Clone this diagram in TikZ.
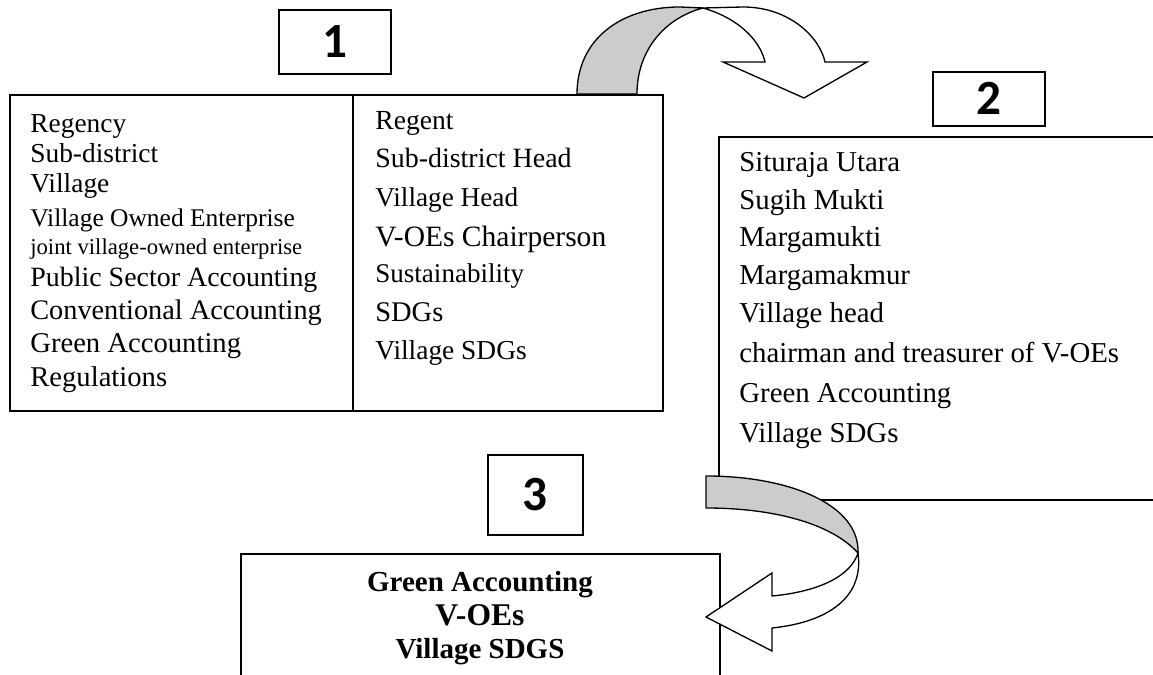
\documentclass[tikz,border=0pt]{standalone}
\usepackage{fontspec}
\setmainfont{Liberation Serif}
\newfontfamily\numfont{Carlito}
\newcommand{\fs}[1]{\fontsize{#1}{#1}\selectfont}
\tikzset{
  frame box/.style={draw, line width=1.1pt, inner sep=0pt, anchor=north west},
  num box/.style={draw, line width=0.95pt, inner sep=0pt, anchor=north west,
    font=\numfont\bfseries\fontsize{28}{30}\selectfont},
  band back/.style={draw, line width=0.75pt, fill=black!20, line join=round},
  band front/.style={draw, line width=0.75pt, fill=white, line join=miter},
  item/.style={anchor=base west, inner sep=0pt},
  result/.style={anchor=base, inner sep=0pt},
}

\begin{document}
\begin{tikzpicture}[x=0.02cm, y=-0.02cm]
  \useasboundingbox (0,0) rectangle (1153,675);
  \clip (0,0) rectangle (1153,675);

  % stage boxes
  \node[frame box, minimum width=13.06cm, minimum height=6.32cm] (stage1) at (9,94) {};
  \draw[line width=1.1pt] (353,94) -- (353,410);
  \node[frame box, minimum width=9.2cm, minimum height=7.26cm] (stage2) at (718,136) {};
  \node[frame box, minimum width=9.58cm, minimum height=3.2cm] (stage3) at (240,553) {};

  % number tags
  \node[num box, minimum width=2.24cm, minimum height=1.28cm] (tag1) at (278,9) {1};
  \node[num box, minimum width=2.24cm, minimum height=1.08cm] (tag2) at (932,71) {2};
  \node[num box, minimum width=1.9cm, minimum height=1.6cm] (tag3) at (487,454) {3};

  % column texts
  \foreach \txt/\sz/\yy [count=\i] in {Regency/15.6/133, Sub-district/15.6/163,
      Village/15.6/193, Village Owned Enterprise/14.5/227,
      joint village-owned enterprise/12.9/255, Public Sector Accounting/15.9/287,
      Conventional Accounting/16.1/320, Green Accounting/16.3/353, Regulations/16.3/387}
    \node[item, font=\fs{\sz}] (left\i) at (30,\yy) {\txt};
  \foreach \txt/\sz/\yy [count=\i] in {Regent/15.7/130, Sub-district Head/15.9/168,
      Village Head/15.5/207, V-OEs Chairperson/16.8/247, Sustainability/15.4/283,
      SDGs/16.2/322, Village SDGs/15.6/360}
    \node[item, font=\fs{\sz}] (right\i) at (375,\yy) {\txt};
  \foreach \txt/\yy [count=\i] in {Situraja Utara/172, Sugih Mukti/210,
      Margamukti/247, Margamakmur/285, Village head/323,
      chairman and treasurer of V-OEs/363, Green Accounting/403, Village SDGs/442}
    \node[item, font=\fs{16.4}] (site\i) at (739,\yy) {\txt};
  \node[result, font=\bfseries\fs{16.5}] (res1) at (480,591) {Green Accounting};
  \node[result, font=\bfseries\fs{18}] (res2) at (480,625) {V-OEs};
  \node[result, font=\bfseries\fs{16.5}] (res3) at (480,658) {Village SDGS};

  % upper curved arrow
  \draw[band back] (577,94) .. controls (577,40) and (620,7) .. (680,7)
    -- (703,8) .. controls (665,18) and (637,50) .. (637,94) -- cycle;
  \draw[band front] (703,8) .. controls (738,18) and (760,40) .. (765,62)
    -- (723,62) -- (804,98) -- (867,62) -- (825,62)
    .. controls (820,38) and (790,7) .. (743,7) -- cycle;

  % lower curved arrow
  \draw[band back] (706,476) .. controls (790,476) and (860,505) .. (858,553)
    .. controls (830,522) and (770,508) .. (706,508) -- cycle;
  \draw[band front] (858,553) .. controls (850,578) and (815,592) .. (772,596)
    -- (772,573) -- (706,617) -- (772,651) -- (772,628)
    .. controls (830,622) and (864,596) .. (858,553) -- cycle;
\end{tikzpicture}
\end{document}
